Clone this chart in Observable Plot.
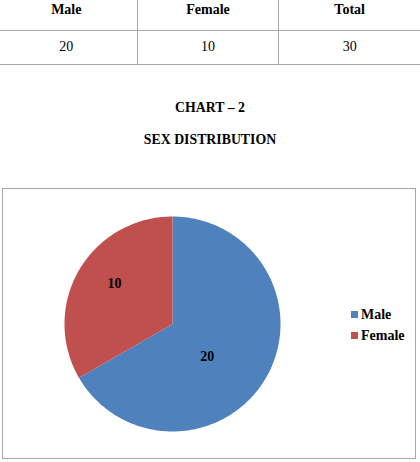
<!DOCTYPE html>
<html><head><meta charset="utf-8">
<script src="https://cdn.jsdelivr.net/npm/d3@7"></script>
<script src="https://cdn.jsdelivr.net/npm/@observablehq/plot@0.6"></script>
<style>
body{margin:0;width:420px;height:462px;position:relative;overflow:hidden;background:#fff;font-family:"Liberation Serif","Times New Roman",serif;color:#000}
table{position:absolute;left:-5px;top:-11px;width:426px;border-collapse:collapse;font-size:14px;table-layout:fixed}
td,th{border:1px solid #a6a6a6;text-align:center;padding:0}
th{height:40px;font-weight:bold}
td{height:32px;padding-bottom:1px}
.title{position:absolute;left:0;width:420px;text-align:center;font-weight:bold;font-size:13.8px;line-height:16px}
#box{position:absolute;left:2px;top:188px;width:412px;height:269px;border:1px solid #a6a6a6}
#chart{position:absolute;left:0;top:0}
#legend{position:absolute;left:348px;top:115px;font-weight:bold;font-size:14px}
.item{position:relative;height:21px;line-height:21px;padding-left:10px;white-space:nowrap}
.sw{position:absolute;left:0;top:7px;width:7px;height:7px}
</style></head>
<body>
<table id="tbl"><tr id="hdr"></tr><tr id="vals"></tr></table>
<div class="title" id="t1" style="top:100px"></div>
<div class="title" id="t2" style="top:132px"></div>
<div id="box"><div id="chart"></div><div id="legend"></div></div>
<script>
const categories = ["Male", "Female"];
const values = [20, 10];
const colors = ["#4F81BD", "#C0504D"];
const tableHeaders = ["Male", "Female", "Total"];
const tableValues = [20, 10, 30];
const chartTitle = "CHART \u2013 2";
const chartSubtitle = "SEX DISTRIBUTION";

// table + titles
const hdr = document.getElementById("hdr"), vals = document.getElementById("vals");
tableHeaders.forEach(h => { const th = document.createElement("th"); th.textContent = h; hdr.appendChild(th); });
tableValues.forEach(v => { const td = document.createElement("td"); td.textContent = v; vals.appendChild(td); });
document.getElementById("t1").textContent = chartTitle;
document.getElementById("t2").textContent = chartSubtitle;

// pie geometry from the data (angles clockwise from 12 o'clock)
const arcs = d3.pie().sort(null).value(d => d.value)(categories.map((c, i) => ({category: c, value: values[i]})));
const pts = [];
arcs.forEach(s => {
  const c = s.data.category;
  const n = Math.ceil((s.endAngle - s.startAngle) / (Math.PI / 180));
  pts.push({category: c, x: 0, y: 0});
  for (let k = 0; k <= n; k++) {
    const a = s.startAngle + (s.endAngle - s.startAngle) * k / n;
    pts.push({category: c, x: Math.sin(a), y: Math.cos(a)});
  }
  pts.push({category: c, x: 0, y: 0});
});
// label placement (Excel "best fit"): angle shift (deg) and radius fraction per slice
const labelShift = [13, 5], labelRadius = [0.44, 0.655];
const labels = arcs.map((s, i) => {
  const a = (s.startAngle + s.endAngle) / 2 + labelShift[i] * Math.PI / 180;
  return {x: labelRadius[i] * Math.sin(a), y: labelRadius[i] * Math.cos(a), text: String(s.data.value)};
});

const chart = Plot.plot({
  width: 412, height: 269,
  marginLeft: 61, marginRight: 135, marginTop: 27, marginBottom: 27,
  style: {fontFamily: "'Liberation Serif','Times New Roman',serif", background: "transparent"},
  x: {domain: [-1, 1], axis: null},
  y: {domain: [-1, 1], axis: null},
  color: {domain: categories, range: colors},
  marks: [
    Plot.line(pts, {x: "x", y: "y", z: "category", fill: "category", stroke: "none", curve: "linear"}),
    Plot.text(labels, {x: "x", y: "y", text: "text", fontSize: 14, fontWeight: "bold", fill: "#000"})
  ]
});
document.getElementById("chart").appendChild(chart);

// legend built from the plot's color scale
const color = chart.scale("color");
const leg = document.getElementById("legend");
categories.forEach(c => {
  const it = document.createElement("div"); it.className = "item";
  const sw = document.createElement("span"); sw.className = "sw"; sw.style.background = color.apply(c);
  it.appendChild(sw); it.appendChild(document.createTextNode(c)); leg.appendChild(it);
});
</script>
</body></html>
